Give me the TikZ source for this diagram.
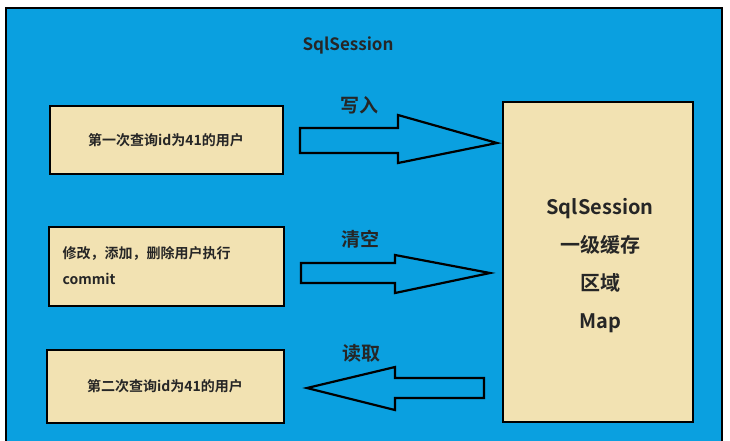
\documentclass[tikz,border=0pt]{standalone}
\usepackage{fontspec}
\setmainfont{Noto Sans CJK SC}[BoldFont={* Bold}]
\definecolor{bg}{HTML}{0AA0E0}
\definecolor{bx}{HTML}{F2E2B2}
\begin{document}
\begin{tikzpicture}[x=1pt,y=-1pt,
  box/.style={draw=black,line width=2.2pt,fill=bx},
  arr/.style={draw=black,line width=2.2pt,fill=bg,line join=miter},
  lbl/.style={font=\bfseries\fontsize{19}{22}\selectfont,text=black!85},
  btxt/.style={font=\bfseries\fontsize{14}{26}\selectfont,text=black!85}]
\useasboundingbox (0,0) rectangle (730,440);
\fill[white] (0,0) rectangle (730,440);
\draw[fill=bg,line width=2.5pt] (6,8) rectangle (722,446);
\node[font=\bfseries\fontsize{17}{20}\selectfont,text=black!85] (title) at (348,45) {SqlSession};
\draw[box] (50,106) rectangle (283,174);
\node[btxt] (t1) at (166,140) {第一次查询id为41的用户};
\draw[box] (49,227) rectangle (284,306);
\node[btxt,align=left,anchor=west] (t2) at (59,266) {修改，添加，删除用户执行\\commit};
\draw[box] (47,350) rectangle (284,423);
\node[btxt] (t3) at (165,386) {第二次查询id为41的用户};
\draw[box] (503,102) rectangle (693,422);
\node[font=\bfseries\fontsize{20}{38}\selectfont,text=black!85,align=center] (cache) at (600,266) {SqlSession\\一级缓存\\区域\\Map};
\draw[arr] (300,128) -- (398,128) -- (398,115) -- (497,143) -- (398,163) -- (398,153) -- (300,153) -- cycle;
\draw[arr] (301,263) -- (395,263) -- (395,255) -- (490,273) -- (395,293) -- (395,283) -- (301,283) -- cycle;
\draw[arr] (484,378) -- (395,378) -- (395,367) -- (307,388) -- (395,410) -- (395,398) -- (484,398) -- cycle;
\node[lbl] (l1) at (359,105) {写入};
\node[lbl] (l2) at (360,239) {清空};
\node[lbl] (l3) at (361,353) {读取};
\end{tikzpicture}
\end{document}
